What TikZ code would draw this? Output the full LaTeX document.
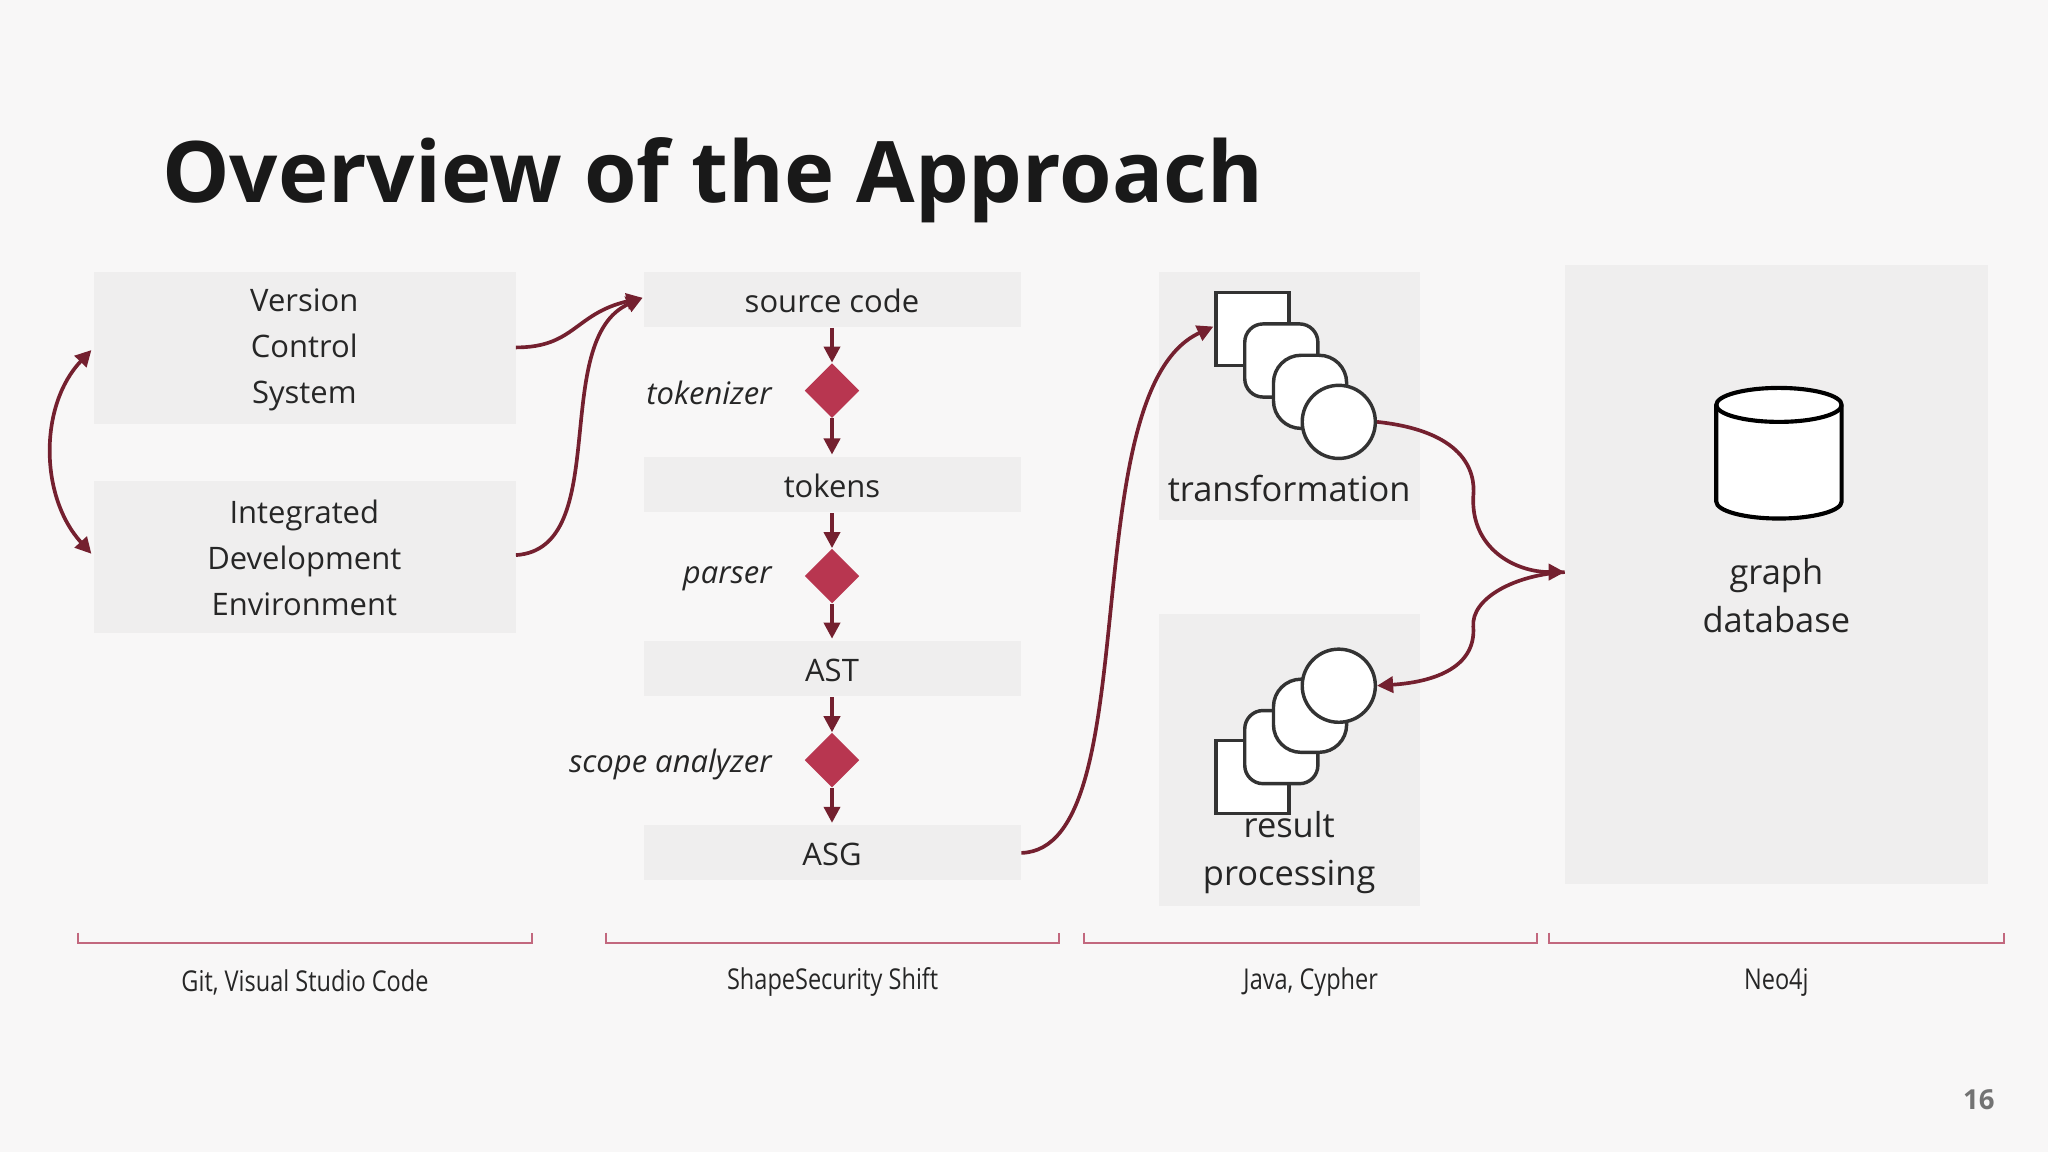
\documentclass[tikz,border=0pt]{standalone}
\usepackage{fontspec}
\setmainfont{Open Sans}
\newfontfamily\condf[FakeStretch=0.82]{Open Sans}
\usetikzlibrary{arrows.meta,shapes.geometric}
\definecolor{bg}{HTML}{F8F7F7}
\definecolor{boxc}{HTML}{EFEEEE}
\definecolor{dred}{HTML}{74202F}
\definecolor{crim}{HTML}{B83650}
\definecolor{brk}{HTML}{C2687E}
\begin{document}
\begin{tikzpicture}[x=0.02cm,y=-0.02cm,
  bx/.style={fill=boxc,draw=none},
  lbl/.style={font=\fontsize{13.5}{20}\selectfont,align=center,text=black!85},
  it/.style={font=\fontsize{13.5}{20}\selectfont\itshape,anchor=east,text=black!85},
  dia/.style={diamond,fill=crim,minimum size=0.84cm,inner sep=0pt},
  ar/.style={draw=dred,line width=1.6pt,-{Triangle[length=7pt,width=7pt]}},
  cr/.style={draw=dred,line width=1.6pt},
  bt/.style={font=\condf\fontsize{12.5}{14}\selectfont,text=black!85},
  sq/.style={draw=black!80,line width=1.5pt,fill=white}]
\fill[bg] (0,0) rectangle (1568,882);
\useasboundingbox (0,0) rectangle (1568,882);
\node[anchor=base west,font=\fontsize{37}{40}\selectfont\bfseries,text=black!90] (title) at (118,155) {Overview of the Approach};
% left boxes
\fill[bx] (72,208) rectangle (395,325); \node[lbl] (vcs) at (233,268) {Version\\Control\\System};
\fill[bx] (72,368) rectangle (395,485); \node[lbl] (ide) at (233,427) {Integrated\\Development\\Environment};
\coordinate (vcsr) at (395,266); \coordinate (ider) at (395,425);
\coordinate (vcsl) at (70,268); \coordinate (idel) at (70,424);
% middle
\foreach \y/\t/\n in {208/source code/sc,350/tokens/tk,491/AST/ast,632/ASG/asg}{
  \fill[bx] (493,\y) rectangle (782,\y+42);
  \node[lbl] (\n) at (637,\y+22) {\t};
}
\node[dia] (d1) at (637,299) {}; \node[dia] (d2) at (637,441) {}; \node[dia] (d3) at (637,582) {};
\node[it] at (597,301) {tokenizer};
\node[it] at (597,443) {parser};
\node[it] at (597,585) {scope analyzer};
\draw[ar] (637,251) -- (d1.north); \draw[ar] (d1.south) -- (637,348);
\draw[ar] (637,393) -- (d2.north); \draw[ar] (d2.south) -- (637,489);
\draw[ar] (637,534) -- (d3.north); \draw[ar] (d3.south) -- (637,630);
\coordinate (scl) at (492,228); \coordinate (asgr) at (782,653);
% right boxes
\fill[bx] (887,208) rectangle (1087,398);
\fill[bx] (887,470) rectangle (1087,694);
\fill[bx] (1198,203) rectangle (1522,677);
\node[lbl,font=\fontsize{15}{21}\selectfont] (tr) at (987,374) {transformation};
\node[lbl,font=\fontsize{15}{21}\selectfont] (rp) at (987,653) {result\\processing};
\node[lbl,font=\fontsize{15}{21}\selectfont] (gd) at (1360,456) {graph\\database};
% transformation icons
\draw[sq] (931,224) rectangle (987,280);
\draw[sq,rounded corners=8] (953,248) rectangle (1009,304);
\draw[sq,rounded corners=12] (975,272) rectangle (1031,328);
\node[sq,circle,minimum size=1.12cm,inner sep=0pt] (c1) at (1025,323) {};
% result icons
\draw[sq] (931,567) rectangle (987,623);
\draw[sq,rounded corners=8] (953,544) rectangle (1009,600);
\draw[sq,rounded corners=12] (975,520) rectangle (1031,576);
\node[sq,circle,minimum size=1.12cm,inner sep=0pt] (c2) at (1025,525) {};
\coordinate (sq1) at (929,250);
% cylinder
\coordinate (db) at (1362,346);
\draw[draw=black,line width=1.8pt,fill=white] (1314,310) -- (1314,384) arc[start angle=180,end angle=360,x radius=48,y radius=-13] -- (1410,310) arc[start angle=0,end angle=180,x radius=48,y radius=-13] -- cycle;
\draw[line width=1.8pt] (1314,310) arc[start angle=180,end angle=360,x radius=48,y radius=-13];
\coordinate (gdl) at (1198,438);
% connectors
\draw[ar] (vcsr) .. controls (440,266) and (440,240) .. (scl);
\draw[ar] (ider) .. controls (470,420) and (420,260) .. (scl);
\draw[cr,{Triangle[length=7pt,width=7pt]}-{Triangle[length=7pt,width=7pt]}] (vcsl) .. controls (30,310) and (30,380) .. (idel);
\draw[ar] (asgr) .. controls (880,650) and (820,300) .. (sq1);
\draw[ar] (c1.east) .. controls (1120,330) and (1130,360) .. (1128,380) .. controls (1126,420) and (1160,438) .. (gdl);
\draw[ar] (gdl) .. controls (1160,440) and (1126,458) .. (1128,480) .. controls (1130,510) and (1100,522) .. (c2.east);
% brackets
\foreach \a/\b/\t in {60/407/{Git, Visual Studio Code},464/811/{ShapeSecurity Shift},830/1177/{Java, Cypher},1186/1534/{Neo4j}}{
  \draw[brk,line width=0.8pt] (\a,714) -- (\a,722) -- (\b,722) -- (\b,714);
  \node[bt] at ({(\a+\b)/2},752) {\t};
}
\node[font=\fontsize{12}{14}\selectfont\bfseries,text=black!55] (pg) at (1515,842) {16};
\end{tikzpicture}
\end{document}
